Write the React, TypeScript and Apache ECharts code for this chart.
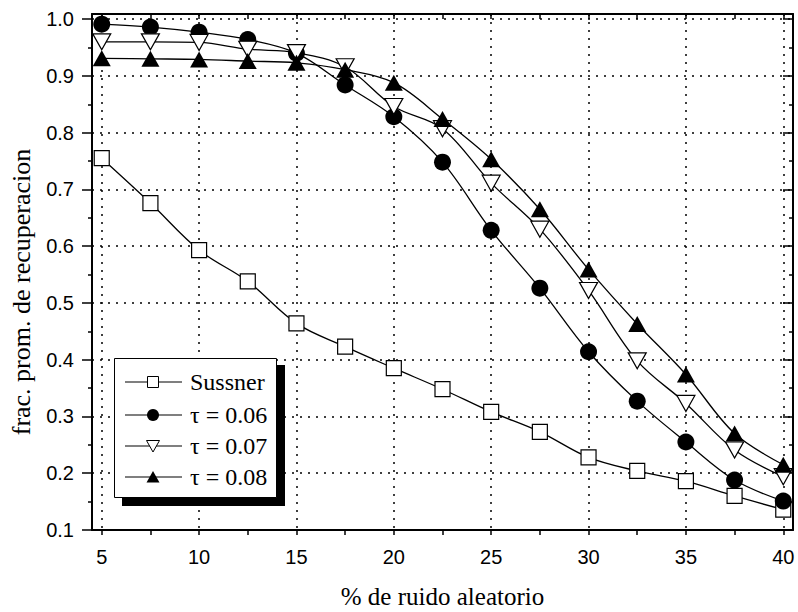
import React, { useEffect, useRef } from "react";
import * as echarts from "echarts";

const xValues = [5, 7.5, 10, 12.5, 15, 17.5, 20, 22.5, 25, 27.5, 30, 32.5, 35, 37.5, 40];
const sussner = [0.755, 0.676, 0.593, 0.538, 0.464, 0.423, 0.385, 0.348, 0.308, 0.273, 0.228, 0.204, 0.186, 0.160, 0.136];
const tau06 = [0.991, 0.986, 0.977, 0.964, 0.940, 0.884, 0.828, 0.748, 0.628, 0.526, 0.414, 0.327, 0.255, 0.188, 0.151];
const tau07 = [0.960, 0.960, 0.959, 0.947, 0.941, 0.916, 0.846, 0.807, 0.711, 0.630, 0.522, 0.398, 0.323, 0.241, 0.194];
const tau08 = [0.931, 0.930, 0.929, 0.926, 0.923, 0.911, 0.888, 0.824, 0.753, 0.665, 0.559, 0.463, 0.374, 0.270, 0.215];

const seriesNames = ["Sussner", "τ = 0.06", "τ = 0.07", "τ = 0.08"];
const xLabelTicks = [5, 10, 15, 20, 25, 30, 35, 40];
const xMinorTicks = [5, 7.5, 10, 12.5, 15, 17.5, 20, 22.5, 25, 27.5, 30, 32.5, 35, 37.5, 40];
const yMajorTicks = [0.1, 0.2, 0.3, 0.4, 0.5, 0.6, 0.7, 0.8, 0.9, 1.0];
const yMinorTicks = [0.15, 0.25, 0.35, 0.45, 0.55, 0.65, 0.75, 0.85, 0.95];

const X_MIN = 4.5;
const X_MAX = 40.5;
const Y_MIN = 0.1;
const Y_MAX = 1.009;

const SANS = "Liberation Sans";
const SERIF = "Liberation Serif";

export default function App() {
  const ref = useRef<HTMLDivElement>(null);

  useEffect(() => {
    if (!ref.current) return;
    const chart = echarts.init(ref.current, undefined, { renderer: "svg" });

    const pair = (ys: number[]) => xValues.map((x, i) => [x, ys[i]]);
    const lineStyle = { color: "#000", width: 1.3 };

    const baseSeries = (name: string, data: number[], extra: any) => ({
      name,
      type: "line",
      xAxisIndex: 0,
      yAxisIndex: 0,
      data: pair(data),
      smooth: 0.35,
      lineStyle,
      showAllSymbol: true,
      ...extra,
    });

    const legendY = [382, 415, 446, 477];
    const legendGraphic: any[] = [
      { type: "rect", z: 100, shape: { x: 122, y: 365, width: 163, height: 141 }, style: { fill: "#000" } },
      { type: "rect", z: 101, shape: { x: 114.5, y: 358.5, width: 162, height: 139 }, style: { fill: "#fff", stroke: "#000", lineWidth: 1 } },
    ];
    legendY.forEach((y, i) => {
      legendGraphic.push({ type: "line", z: 102, shape: { x1: 125, y1: y, x2: 182, y2: y }, style: { stroke: "#000", lineWidth: 1.2 } });
      if (i === 0) {
        legendGraphic.push({ type: "rect", z: 103, shape: { x: 147.5, y: y - 5.5, width: 11, height: 11 }, style: { fill: "#fff", stroke: "#000", lineWidth: 1 } });
      } else if (i === 1) {
        legendGraphic.push({ type: "circle", z: 103, shape: { cx: 153, cy: y, r: 6 }, style: { fill: "#000" } });
      } else if (i === 2) {
        legendGraphic.push({ type: "polygon", z: 103, shape: { points: [[146.5, y - 5.5], [159.5, y - 5.5], [153, y + 6]] }, style: { fill: "#fff", stroke: "#000", lineWidth: 1 } });
      } else {
        legendGraphic.push({ type: "polygon", z: 103, shape: { points: [[146.5, y + 5.5], [159.5, y + 5.5], [153, y - 6]] }, style: { fill: "#000" } });
      }
      legendGraphic.push({
        type: "text", z: 103, x: 190, y,
        style: { text: seriesNames[i], fontSize: 24, fontFamily: SERIF, fill: "#000", align: "left", verticalAlign: "middle" },
      });
    });

    const option: any = {
      animation: false,
      backgroundColor: "#fff",
      grid: { left: 92, right: 5, top: 14, bottom: 82, containLabel: false },
      xAxis: [
        {
          type: "value", position: "bottom", min: X_MIN, max: X_MAX,
          axisLine: { show: true, onZero: false, lineStyle: { color: "#000", width: 2 } },
          axisTick: { show: true, inside: false, length: 5, customValues: xMinorTicks, lineStyle: { color: "#000", width: 1.5 } },
          axisLabel: { show: true, customValues: xLabelTicks, margin: 17, color: "#000", fontSize: 20, fontFamily: SANS },
          splitLine: { show: false },
        },
        {
          type: "value", position: "top", min: X_MIN, max: X_MAX,
          axisLine: { show: true, onZero: false, lineStyle: { color: "#000", width: 2 } },
          axisTick: { show: true, inside: true, length: 5, customValues: xMinorTicks, lineStyle: { color: "#000", width: 1.5 } },
          axisLabel: { show: false },
          splitLine: { show: false },
        },
        {
          type: "value", position: "top", min: X_MIN, max: X_MAX,
          axisLine: { show: false },
          axisTick: { show: false, customValues: xLabelTicks },
          axisLabel: { show: false },
          splitLine: { show: true, lineStyle: { color: "#000", width: 1.5, type: [2, 6] } },
        },
      ],
      yAxis: [
        {
          type: "value", position: "left", min: Y_MIN, max: Y_MAX,
          axisLine: { show: true, onZero: false, lineStyle: { color: "#000", width: 2 } },
          axisTick: { show: true, inside: false, length: 10, customValues: yMajorTicks, lineStyle: { color: "#000", width: 1.5 } },
          axisLabel: { show: true, customValues: yMajorTicks, margin: 18, color: "#000", fontSize: 20, fontFamily: SANS, formatter: (v: number) => v.toFixed(1) },
          splitLine: { show: true, lineStyle: { color: "#000", width: 1.5, type: [2, 6] } },
        },
        {
          type: "value", position: "left", min: Y_MIN, max: Y_MAX,
          axisLine: { show: false },
          axisTick: { show: true, inside: false, length: 4, customValues: yMinorTicks, lineStyle: { color: "#000", width: 1.5 } },
          axisLabel: { show: false },
          splitLine: { show: false },
        },
        {
          type: "value", position: "right", min: Y_MIN, max: Y_MAX,
          axisLine: { show: true, onZero: false, lineStyle: { color: "#000", width: 2 } },
          axisTick: { show: true, inside: true, length: 10, customValues: yMajorTicks, lineStyle: { color: "#000", width: 1.5 } },
          axisLabel: { show: false },
          splitLine: { show: false },
        },
        {
          type: "value", position: "right", min: Y_MIN, max: Y_MAX,
          axisLine: { show: false },
          axisTick: { show: true, inside: true, length: 4, customValues: yMinorTicks, lineStyle: { color: "#000", width: 1.5 } },
          axisLabel: { show: false },
          splitLine: { show: false },
        },
      ],
      series: [
        baseSeries(seriesNames[0], sussner, {
          symbol: "rect", symbolSize: 15,
          itemStyle: { color: "#fff", borderColor: "#000", borderWidth: 1.2 },
        }),
        baseSeries(seriesNames[1], tau06, {
          symbol: "circle", symbolSize: 17,
          itemStyle: { color: "#000", borderColor: "#000", borderWidth: 0 },
        }),
        baseSeries(seriesNames[2], tau07, {
          symbol: "triangle", symbolSize: [18, 16], symbolRotate: 180,
          itemStyle: { color: "#fff", borderColor: "#000", borderWidth: 1.2 },
        }),
        baseSeries(seriesNames[3], tau08, {
          symbol: "triangle", symbolSize: [18, 16],
          itemStyle: { color: "#000", borderColor: "#000", borderWidth: 0 },
        }),
      ],
      graphic: [
        {
          type: "text", z: 100, x: 21, y: 292, rotation: Math.PI / 2,
          style: { text: "frac. prom. de recuperacion", fontSize: 26, fontFamily: SERIF, fill: "#000", align: "center", verticalAlign: "middle" },
        },
        {
          type: "text", z: 100, x: 442.5, y: 596,
          style: { text: "% de ruido aleatorio", fontSize: 25, fontFamily: SERIF, fill: "#000", align: "center", verticalAlign: "middle" },
        },
        ...legendGraphic,
      ],
    };

    chart.setOption(option);
    return () => chart.dispose();
  }, []);

  return (
    <div
      ref={ref}
      style={{ position: "absolute", left: 0, top: 0, width: 798, height: 612, background: "#fff" }}
    />
  );
}
